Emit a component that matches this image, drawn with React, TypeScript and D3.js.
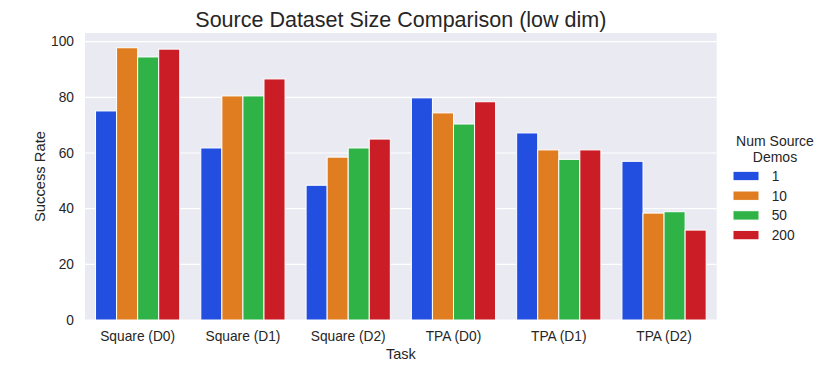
import * as d3 from "d3";

const tasks = ["Square (D0)", "Square (D1)", "Square (D2)", "TPA (D0)", "TPA (D1)", "TPA (D2)"];
const demos = ["1", "10", "50", "200"];
const colors = ["#224fdf", "#df7d20", "#30b346", "#cb1d25"];

// success rate per task, one array per number of source demos
const demos1 = [75.1, 61.8, 48.4, 79.8, 67.2, 57.0];
const demos10 = [97.8, 80.5, 58.5, 74.4, 61.1, 38.4];
const demos50 = [94.5, 80.5, 61.8, 70.4, 57.7, 38.9];
const demos200 = [97.3, 86.6, 65.0, 78.4, 61.1, 32.3];
const series = [demos1, demos10, demos50, demos200];

const yTicks = [0, 20, 40, 60, 80, 100];

const width = 830;
const height = 378;
const marginLeft = 85;
const marginRight = 113.3;
const marginTop = 33;
const marginBottom = 58;
const font = "'Liberation Sans', Arial, sans-serif";

const App = () => {
  const x = d3
    .scaleBand()
    .domain(tasks)
    .range([marginLeft, width - marginRight])
    .padding(0);

  const bw = x.bandwidth();
  const xHue = d3
    .scaleBand()
    .domain(demos)
    .range([bw * 0.1, bw * 0.9])
    .padding(0);

  const y = d3
    .scaleLinear()
    .domain([0, 103.1])
    .range([height - marginBottom, marginTop]);

  const plotW = width - marginLeft - marginRight;
  const plotH = height - marginTop - marginBottom;

  return (
    <svg
      width={width}
      height={height}
      viewBox={`0 0 ${width} ${height}`}
      style={{ position: "absolute", left: 0, top: 0 }}
      fontFamily={font}
    >
      <rect x={0} y={0} width={width} height={height} fill="white" />
      <rect x={marginLeft} y={marginTop} width={plotW} height={plotH} fill="#eaeaf2" />

      {/* grid */}
      {yTicks.map((t) => (
        <line
          key={t}
          x1={marginLeft}
          x2={width - marginRight}
          y1={y(t)}
          y2={y(t)}
          stroke="white"
          strokeWidth={1.2}
        />
      ))}

      {/* bars */}
      {series.map((vals, si) => (
        <g key={demos[si]} fill={colors[si]}>
          {vals.map((v, ti) => (
            <rect
              key={tasks[ti]}
              x={(x(tasks[ti]) ?? 0) + (xHue(demos[si]) ?? 0)}
              y={y(v)}
              width={xHue.bandwidth()}
              height={y(0) - y(v)}
              stroke="white"
              strokeWidth={1}
            />
          ))}
        </g>
      ))}

      {/* y ticks */}
      {yTicks.map((t) => (
        <text
          key={t}
          x={marginLeft - 11}
          y={y(t)}
          dy="0.35em"
          textAnchor="end"
          fontSize={13.75}
          fill="#262626"
        >
          {t}
        </text>
      ))}

      {/* x ticks */}
      {tasks.map((t) => (
        <text
          key={t}
          x={(x(t) ?? 0) + bw / 2}
          y={340.5}
          textAnchor="middle"
          fontSize={13.75}
          fill="#262626"
        >
          {t}
        </text>
      ))}

      <text x={marginLeft + plotW / 2} y={359} textAnchor="middle" fontSize={14.5} fill="#262626">
        Task
      </text>
      <text
        transform={`translate(45,${marginTop + plotH / 2}) rotate(-90)`}
        textAnchor="middle"
        fontSize={14.75}
        fill="#262626"
      >
        Success Rate
      </text>

      <text x={marginLeft + plotW / 2} y={26.7} textAnchor="middle" fontSize={21.5} fill="#262626">
        Source Dataset Size Comparison (low dim)
      </text>

      {/* legend */}
      <g fill="#262626" fontSize={14}>
        <text x={775} y={146} textAnchor="middle">
          Num Source
        </text>
        <text x={775} y={161.5} textAnchor="middle">
          Demos
        </text>
        {demos.map((d, i) => (
          <g key={d} transform={`translate(733,${176 + i * 19.7})`}>
            <rect x={0} y={-4.7} width={26} height={9.4} fill={colors[i]} stroke="white" strokeWidth={1} />
            <text x={38.7} y={0} dy="0.35em" fontSize={13.75}>
              {d}
            </text>
          </g>
        ))}
      </g>
    </svg>
  );
};

export default App;
